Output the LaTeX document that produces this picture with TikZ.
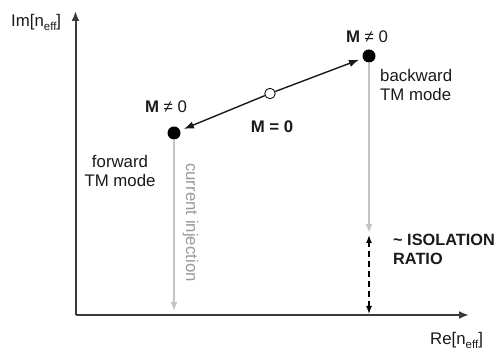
\documentclass[tikz,border=0pt]{standalone}
\usepackage{fontspec}
\setmainfont{Liberation Sans}
\usetikzlibrary{arrows.meta}
\definecolor{axisc}{HTML}{3A3A3A}
\definecolor{lgray}{HTML}{C4C4C4}
\definecolor{tgray}{HTML}{9A9A9A}
\definecolor{ink}{HTML}{1A1A1A}
\tikzset{
  lbl/.style={font=\fontsize{16.8}{19.5}\selectfont, text=ink, inner sep=0pt},
  axis/.style={draw=axisc, line width=2pt, -{Latex[length=10pt,width=8pt]}},
  dot/.style={circle, fill=black, minimum size=13pt, inner sep=0pt},
  odot/.style={circle, draw=black, fill=white, line width=0.8pt, minimum size=10.5pt, inner sep=0pt},
  arr/.style={draw=ink, line width=1.4pt, -{Latex[length=10pt,width=7.5pt]}, shorten >=4pt},
  garr/.style={draw=lgray, line width=2pt, -{Latex[length=9pt,width=7pt]}},
  darr/.style={draw=black, line width=1.4pt, dash pattern=on 6pt off 4pt, {Latex[length=8pt,width=6pt]}-{Latex[length=8pt,width=6pt]}}
}
\begin{document}
\begin{tikzpicture}[x=1pt,y=1pt]
\useasboundingbox (0,0) rectangle (495,352);
\fill[white] (0,0) rectangle (495,352);
% axes
\coordinate (O) at (75.5,37);
\coordinate (ytip) at (75.5,341);
\coordinate (xtip) at (469,37);
\draw[axis] (O) -- (ytip);
\draw[axis] (O) -- (xtip);
\node[lbl, anchor=base west] (imlab) at (11,325) {Im[n\raisebox{-0.4ex}{\fontsize{11.5}{11.5}\selectfont eff}]};
\node[lbl, anchor=base west] (relab) at (430,7) {Re[n\raisebox{-0.4ex}{\fontsize{11.5}{11.5}\selectfont eff}]};
% points
\node[dot] (bw) at (369,296) {};
\node[dot] (fw) at (174,219) {};
\node[odot] (m0) at (270,258.5) {};
\draw[arr] (m0) -- (bw);
\draw[arr] (m0) -- (fw);
% gray vertical lines
\coordinate (fwend) at (174,41);
\coordinate (bwend) at (369,119);
\draw[garr] (fw.south) -- (fwend);
\draw[garr] (bw.south) -- (bwend);
% isolation ratio
\coordinate (dtop) at (369,117);
\coordinate (dbot) at (369,38);
\draw[darr] (dbot) -- (dtop);
% labels
\node[lbl, anchor=base] (mbw) at (367,309) {\textbf{M} ≠ 0};
\node[lbl, anchor=base] (mfw) at (166,239) {\textbf{M} ≠ 0};
\node[lbl, anchor=base] (mzero) at (272,219) {\textbf{M = 0}};
\node[lbl, anchor=base west, align=left] (bwlab) at (380,251) {backward\\TM mode};
\node[lbl, anchor=base, align=center] (fwlab) at (120,165) {forward\\TM mode};
\node[lbl, anchor=base west, rotate=-90, text=tgray] (cinj) at (186,189) {current injection};
\node[lbl, anchor=base west, align=left, font=\fontsize{16.3}{19.5}\selectfont\bfseries] (iso) at (393,87) {\textasciitilde{} ISOLATION\\RATIO};
\end{tikzpicture}
\end{document}
